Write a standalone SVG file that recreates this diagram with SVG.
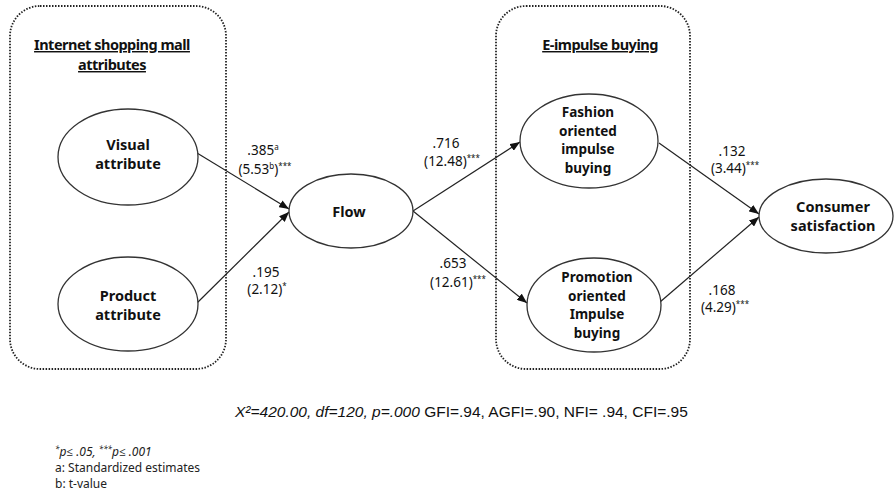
<svg xmlns="http://www.w3.org/2000/svg" width="894" height="496" viewBox="0 0 894 496">
<style>
.box{fill:none;stroke:#222;stroke-width:1.8;stroke-dasharray:1.5 1.5}
.node{fill:#fff;stroke:#333;stroke-width:1.3}
.lbl{font-family:"Noto Sans","Open Sans",sans-serif;font-weight:bold;font-size:14.5px;fill:#111;text-anchor:middle}
.lbl4{font-size:13.5px}
.ttl{font-family:"Noto Sans","Open Sans",sans-serif;font-weight:bold;font-size:14.5px;fill:#111;text-anchor:middle;text-decoration:underline;letter-spacing:-0.5px}
.num{font-family:"Noto Sans","Open Sans",sans-serif;font-size:13.5px;fill:#111;text-anchor:middle}
.sup{font-size:8px}
.fit{font-family:"Liberation Sans",Arial,sans-serif;font-size:15.5px;fill:#111}
.note{font-family:"Noto Sans","Open Sans",sans-serif;font-size:12px;fill:#222}
.edge{stroke:#222;stroke-width:1.2;fill:none;marker-end:url(#arr)}
</style>
<defs>
<marker id="arr" viewBox="0 0 10 8" refX="10" refY="4" markerWidth="10" markerHeight="8" markerUnits="userSpaceOnUse" orient="auto">
<path d="M0,0 L10,4 L0,8 z" fill="#111"/>
</marker>
</defs>

<g id="group-internet">
<rect class="box" x="10" y="6" width="216" height="363" rx="30" ry="30"/>
<text class="ttl" x="112" y="50">Internet shopping mall</text>
<text class="ttl" x="112" y="70">attributes</text>
</g>
<g id="group-eimpulse">
<rect class="box" x="496" y="6" width="194" height="363" rx="30" ry="30"/>
<text class="ttl" x="600" y="50">E-impulse buying</text>
</g>

<g id="connectors">
<line class="edge" x1="197" y1="153" x2="289" y2="209"/>
<line class="edge" x1="196" y1="304" x2="289" y2="212"/>
<line class="edge" x1="413" y1="211" x2="520" y2="142"/>
<line class="edge" x1="413" y1="211" x2="527" y2="303"/>
<line class="edge" x1="659" y1="143" x2="759" y2="214"/>
<line class="edge" x1="660" y1="302" x2="759" y2="217"/>
</g>

<g id="labels">
<text class="num" x="263" y="155">.385<tspan class="sup" dy="-5">a</tspan></text>
<text class="num" x="265" y="174">(5.53<tspan class="sup" dy="-5">b</tspan><tspan dy="5">)</tspan><tspan class="sup" dy="-5">***</tspan></text>
<text class="num" x="266" y="277">.195</text>
<text class="num" x="267" y="294">(2.12)<tspan class="sup" dy="-5">*</tspan></text>
<text class="num" x="446" y="148">.716</text>
<text class="num" x="452" y="166">(12.48)<tspan class="sup" dy="-5">***</tspan></text>
<text class="num" x="453" y="268">.653</text>
<text class="num" x="458" y="287">(12.61)<tspan class="sup" dy="-5">***</tspan></text>
<text class="num" x="732" y="156">.132</text>
<text class="num" x="735" y="173">(3.44)<tspan class="sup" dy="-5">***</tspan></text>
<text class="num" x="722" y="295">.168</text>
<text class="num" x="725" y="312">(4.29)<tspan class="sup" dy="-5">***</tspan></text>
</g>

<g id="visual">
<ellipse class="node" cx="128" cy="157" rx="70" ry="48"/>
<text class="lbl" x="128" y="150">Visual</text>
<text class="lbl" x="128" y="169">attribute</text>
</g>
<g id="product">
<ellipse class="node" cx="128" cy="304" rx="70" ry="47"/>
<text class="lbl" x="128" y="301">Product</text>
<text class="lbl" x="128" y="320">attribute</text>
</g>
<g id="flow">
<ellipse class="node" cx="351" cy="211" rx="62" ry="37"/>
<text class="lbl" x="349" y="217">Flow</text>
</g>
<g id="fashion">
<ellipse class="node" cx="589" cy="141" rx="69" ry="47"/>
<text class="lbl lbl4" x="588" y="117">Fashion</text>
<text class="lbl lbl4" x="588" y="135.5">oriented</text>
<text class="lbl lbl4" x="588" y="154">impulse</text>
<text class="lbl lbl4" x="588" y="172.5">buying</text>
</g>
<g id="promotion">
<ellipse class="node" cx="594" cy="305" rx="67" ry="47"/>
<text class="lbl lbl4" x="597" y="282">Promotion</text>
<text class="lbl lbl4" x="597" y="300.5">oriented</text>
<text class="lbl lbl4" x="597" y="319">Impulse</text>
<text class="lbl lbl4" x="597" y="337.5">buying</text>
</g>
<g id="consumer">
<ellipse class="node" cx="826" cy="216" rx="67" ry="37"/>
<text class="lbl" x="833" y="212">Consumer</text>
<text class="lbl" x="833" y="231">satisfaction</text>
</g>

<text class="fit" x="235" y="417"><tspan font-style="italic">X²=420.00, df=120, p=.000</tspan> GFI=.94,  AGFI=.90,  NFI= .94, CFI=.95</text>

<g id="notes">
<text class="note" x="55" y="456" font-style="italic"><tspan class="sup" dy="-4">*</tspan><tspan dy="4">p≤ .05, </tspan><tspan class="sup" dy="-4">***</tspan><tspan dy="4">p≤ .001</tspan></text>
<text class="note" x="55" y="472">a: Standardized estimates</text>
<text class="note" x="55" y="488">b: t-value</text>
</g>
</svg>
